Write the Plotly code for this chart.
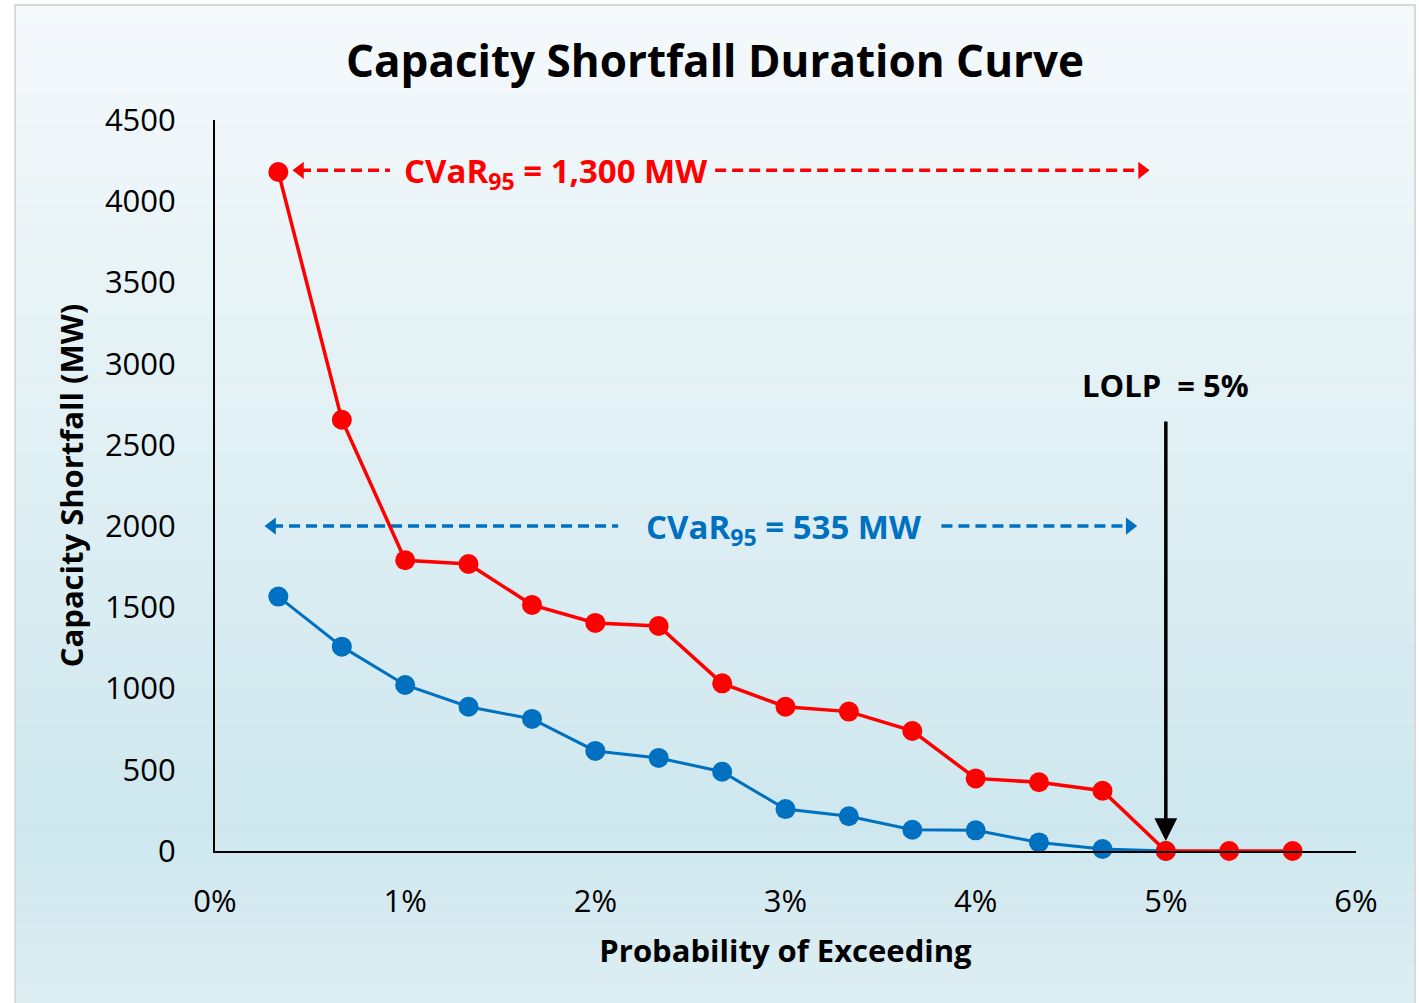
import plotly.graph_objects as go

# ---- data ----
prob_pct = [0.333, 0.667, 1.000, 1.333, 1.667, 2.000, 2.333, 2.667, 3.000,
            3.333, 3.667, 4.000, 4.333, 4.667, 5.000, 5.333, 5.667]
red_mw = [4180, 2655, 1790, 1767, 1515, 1404, 1385, 1032, 888,
          858, 739, 447, 423, 371, 0, 0, 0]
blue_prob_pct = [0.333, 0.667, 1.000, 1.333, 1.667, 2.000, 2.333, 2.667, 3.000,
                 3.333, 3.667, 4.000, 4.333, 4.667, 5.000]
blue_mw = [1566, 1258, 1022, 888, 813, 616, 573, 488, 258,
           214, 131, 127, 53, 12, 0]
x_ticks = [0, 1, 2, 3, 4, 5, 6]
x_tick_labels = ["0%", "1%", "2%", "3%", "4%", "5%", "6%"]
y_ticks = [0, 500, 1000, 1500, 2000, 2500, 3000, 3500, 4000, 4500]

red_cvar_label = "CVaR<sub>95</sub> = 1,300 MW"
blue_cvar_label = "CVaR<sub>95</sub> = 535 MW"
lolp_label = "LOLP&nbsp;&nbsp;= 5%"
lolp_pct = 5
red_arrow_level = 4190
blue_arrow_level = 2000
red_arrow_span = [0.447, 0.92, 2.63, 4.875]   # left end, text gap start, gap end, right end
blue_arrow_span = [0.30, 2.12, 3.82, 4.81]
red_text_x = 1.79
blue_text_x = 2.99
lolp_text_level = 2869
lolp_arrow_top = 2653

RED = "#ff0000"
BLUE = "#0070c0"
NARROW = "Open Sans, sans-serif"
WIDE = "Open Sans, DejaVu Sans, sans-serif"

W, H = 1419, 1003
L, R, T, B = 215, 63, 120, 152
pw, ph = W - L - R, H - T - B


def px_to_paper(px, py):
    return (px - L) / pw, (H - B - py) / ph


fig = go.Figure()

# dashed double arrows
for span, lvl, col in [(red_arrow_span, red_arrow_level, RED),
                       (blue_arrow_span, blue_arrow_level, BLUE)]:
    for seg in [(span[0], span[1]), (span[2], span[3])]:
        fig.add_trace(go.Scatter(x=list(seg), y=[lvl, lvl], mode="lines",
                                 line=dict(color=col, width=3.5, dash="11px,6px"),
                                 hoverinfo="skip", showlegend=False))
    fig.add_trace(go.Scatter(x=[span[0], span[3]], y=[lvl, lvl], mode="markers",
                             marker=dict(symbol=["triangle-left", "triangle-right"],
                                         size=15, color=col),
                             hoverinfo="skip", showlegend=False))

fig.add_trace(go.Scatter(x=blue_prob_pct, y=blue_mw, mode="lines+markers",
                         line=dict(color=BLUE, width=3),
                         marker=dict(size=20, color=BLUE),
                         cliponaxis=False, showlegend=False))
fig.add_trace(go.Scatter(x=prob_pct, y=red_mw, mode="lines+markers",
                         line=dict(color=RED, width=3.5),
                         marker=dict(size=20, color=RED),
                         cliponaxis=False, showlegend=False))

# background gradient and frame
stops = [(5, (245, 249, 252)), (400, (226, 241, 245)), (830, (206, 231, 238)), (1003, (221, 238, 243))]


def col_at(py):
    for (y0, c0), (y1, c1) in zip(stops[:-1], stops[1:]):
        if y0 <= py <= y1:
            t = (py - y0) / (y1 - y0)
            return "rgb(%d,%d,%d)" % tuple(round(a + (b - a) * t) for a, b in zip(c0, c1))
    return "rgb(%d,%d,%d)" % stops[-1][1]


shapes = []
n = 100
top, bot = 5, 1003
for i in range(n):
    y0 = top + (bot - top) * i / n
    y1 = top + (bot - top) * (i + 1) / n + 0.6
    xa, ya = px_to_paper(15, y0)
    xb, yb = px_to_paper(1415, y1)
    shapes.append(dict(type="rect", xref="paper", yref="paper", x0=xa, x1=xb, y0=yb, y1=ya,
                       fillcolor=col_at((y0 + y1) / 2), line=dict(width=0), layer="below"))
xa, ya = px_to_paper(15, 5)
xb, yb = px_to_paper(1415, 1010)
shapes.append(dict(type="rect", xref="paper", yref="paper", x0=xa, x1=xb, y0=yb, y1=ya,
                   fillcolor="rgba(0,0,0,0)", line=dict(color="#d9d9d9", width=2), layer="below"))

annotations = [
    dict(x=red_text_x, y=red_arrow_level, text=red_cvar_label, showarrow=False,
         font=dict(family=NARROW, size=33, color=RED, weight="bold"), yshift=-2),
    dict(x=blue_text_x, y=blue_arrow_level, text=blue_cvar_label, showarrow=False,
         font=dict(family=NARROW, size=33, color=BLUE, weight="bold"), yshift=-2),
    dict(x=lolp_pct, y=lolp_text_level, text=lolp_label, showarrow=False,
         font=dict(family=NARROW, size=31, color="black", weight="bold")),
    dict(x=lolp_pct, y=0, ax=lolp_pct, ay=lolp_arrow_top, axref="x", ayref="y",
         text="", showarrow=True, arrowhead=2, arrowsize=1.3, arrowwidth=3.5,
         arrowcolor="black", standoff=10),
]

fig.update_layout(
    width=W, height=H, autosize=False,
    margin=dict(l=L, r=R, t=T, b=B, pad=0),
    paper_bgcolor="white", plot_bgcolor="rgba(0,0,0,0)",
    title=dict(text="<b>Capacity Shortfall Duration Curve</b>", x=715 / W, xref="container",
               xanchor="center", y=1 - 62 / H, yref="container", yanchor="middle",
               font=dict(family=NARROW, size=44, color="black")),
    shapes=shapes, annotations=annotations,
    xaxis=dict(range=[0, 6], tickvals=x_ticks, ticktext=x_tick_labels,
               showgrid=False, zeroline=False, showline=True, linecolor="black",
               linewidth=2, ticks="", ticklabelstandoff=22,
               tickfont=dict(family=NARROW, size=31, color="black"),
               title=dict(text="<b>Probability of Exceeding</b>", standoff=20,
                          font=dict(family=NARROW, size=31, color="black"))),
    yaxis=dict(range=[0, 4500], tickvals=y_ticks,
               showgrid=False, zeroline=False, showline=True, linecolor="black",
               linewidth=2, ticks="", ticklabelstandoff=31,
               tickfont=dict(family=WIDE, size=31, color="black"),
               title=dict(text="<b>Capacity Shortfall (MW)</b>", standoff=12,
                          font=dict(family=NARROW, size=31, color="black"))),
)

fig.write_html("out.html", config={"displayModeBar": False},
               post_script="document.body.style.margin='0';document.body.style.overflow='hidden';")
